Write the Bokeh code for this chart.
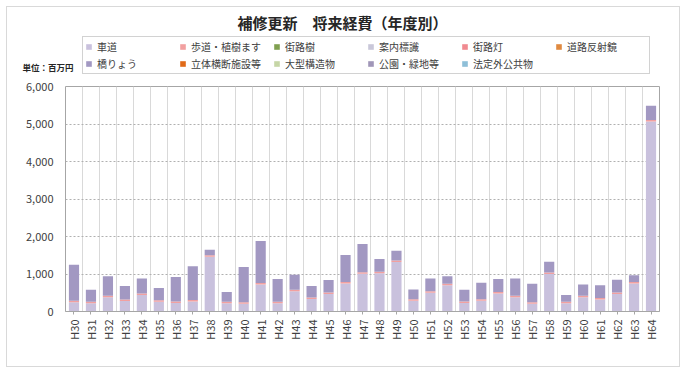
import numpy as np
from bokeh.plotting import figure
from bokeh.layouts import column
from bokeh.models import (ColumnDataSource, Legend, LegendItem, FixedTicker,
                          NumeralTickFormatter, Label, Range1d)
from bokeh.embed import file_html
from bokeh.resources import INLINE

# 年度ラベル
years = ["H30", "H31", "H32", "H33", "H34", "H35", "H36", "H37", "H38", "H39",
         "H40", "H41", "H42", "H43", "H44", "H45", "H46", "H47", "H48", "H49",
         "H50", "H51", "H52", "H53", "H54", "H55", "H56", "H57", "H58", "H59",
         "H60", "H61", "H62", "H63", "H64"]

# 施設区分別 経費（百万円）
shadou = [250, 220, 380, 280, 440, 260, 230, 270, 1460, 220,
          210, 720, 220, 540, 335, 470, 750, 1010, 1020, 1320,
          290, 500, 700, 230, 290, 480, 380, 210, 1000, 220,
          380, 320, 470, 750, 5070]
hodou = [40, 40, 40, 40, 40, 40, 40, 40, 40, 40,
         40, 40, 40, 40, 40, 40, 40, 40, 40, 40,
         40, 40, 40, 40, 40, 40, 40, 40, 40, 40,
         40, 40, 40, 40, 40]
gairoju = [0] * 35
annai = [0] * 35
gairotou = [0] * 35
hanshakyo = [0] * 35
kyouryou = [960, 320, 520, 360, 400, 330, 650, 900, 150, 260,
            940, 1120, 610, 400, 305, 330, 720, 750, 340, 260,
            260, 340, 200, 310, 440, 350, 460, 490, 290, 180,
            300, 340, 340, 180, 380]
rittai = [0] * 35
oogata = [0] * 35
kouen = [0] * 35
houteigai = [0] * 35

names = ["車道", "歩道・植樹ます", "街路樹", "案内標識", "街路灯", "道路反射鏡",
         "橋りょう", "立体横断施設等", "大型構造物", "公園・緑地等", "法定外公共物"]
keys = ["shadou", "hodou", "gairoju", "annai", "gairotou", "hanshakyo",
        "kyouryou", "rittai", "oogata", "kouen", "houteigai"]
colors = ["#c9c1dd", "#f2a0a0", "#80a050", "#c9c7d9", "#f08a90", "#e08a40",
          "#a298c2", "#e06a18", "#c6d6a6", "#a096b8", "#8ebfd8"]

TITLE = "補修更新　将来経費（年度別）"
UNIT = "単位：百万円"
FONT = "Noto Sans CJK JP"

source = ColumnDataSource(dict(
    x=list(range(len(years))),
    shadou=shadou, hodou=hodou, gairoju=gairoju, annai=annai,
    gairotou=gairotou, hanshakyo=hanshakyo, kyouryou=kyouryou,
    rittai=rittai, oogata=oogata, kouen=kouen, houteigai=houteigai,
))

W = 672
HEAD_H = 72

# ---- header: title, unit note and legend -------------------------------
head = figure(width=W, height=HEAD_H, output_backend="svg",
              toolbar_location=None, x_range=Range1d(0, W),
              y_range=Range1d(0, HEAD_H), min_border=0, margin=0)
head.frame_align = False
head.axis.visible = False
head.grid.visible = False
head.outline_line_color = None
head.border_fill_color = "white"

# the series again (hidden) so that the legend can show their swatches
legend_rs = head.vbar_stack(keys, x="x", width=0.6, color=colors,
                            line_color=None, source=source, visible=False)

items = [LegendItem(label=n, renderers=[r]) for n, r in zip(names, legend_rs)]
legend = Legend(items=items, ncols=6, orientation="horizontal",
                location=(75, 5))
legend.label_text_font = FONT
legend.label_text_font_size = "10px"
legend.label_text_color = "#404040"
legend.glyph_width = 7
legend.glyph_height = 7
legend.label_standoff = 5
legend.label_width = 80
legend.label_height = 12
legend.spacing = 2
legend.padding = 2
legend.margin = 0
legend.border_line_color = "#a6a6a6"
legend.border_line_width = 1
legend.background_fill_color = "white"
legend.inactive_fill_alpha = 0
head.add_layout(legend, "center")

head.add_layout(Label(x=W / 2 - 1, y=57, text=TITLE, text_align="center",
                      text_baseline="middle", text_font=FONT,
                      text_font_size="15px", text_font_style="bold",
                      text_color="#262626"))
head.add_layout(Label(x=15, y=13, text=UNIT, text_align="left",
                      text_baseline="middle", text_font=FONT,
                      text_font_size="8.5px", text_font_style="bold",
                      text_color="#262626"))

# ---- chart --------------------------------------------------------------
p = figure(width=W, height=287, output_backend="svg", toolbar_location=None,
           x_range=Range1d(-0.5, len(years) - 0.5), y_range=Range1d(0, 6000),
           min_border_left=58, min_border_right=20, min_border_top=7,
           min_border_bottom=55, margin=0)
p.frame_align = False
p.outline_line_color = "#a6a6a6"
p.background_fill_color = "white"
p.border_fill_color = "white"

p.vbar_stack(keys, x="x", width=0.6, color=colors, line_color=None,
             source=source)

p.xaxis.ticker = FixedTicker(ticks=list(range(len(years))))
p.xaxis.major_label_overrides = {i: y for i, y in enumerate(years)}
p.xaxis.major_label_orientation = np.pi / 2
p.xaxis.major_label_text_font = FONT
p.xaxis.major_label_text_font_size = "11px"
p.xaxis.major_label_text_color = "#404040"
p.xaxis.axis_line_color = "#a6a6a6"
p.xaxis.major_tick_line_color = "#a6a6a6"
p.xaxis.major_tick_in = 0
p.xaxis.major_tick_out = 3
p.xaxis.minor_tick_line_color = None

p.yaxis.ticker = FixedTicker(ticks=[0, 1000, 2000, 3000, 4000, 5000, 6000])
p.yaxis.formatter = NumeralTickFormatter(format="0,0")
p.yaxis.major_label_text_font = FONT
p.yaxis.major_label_text_font_size = "11px"
p.yaxis.major_label_text_color = "#404040"
p.yaxis.axis_line_color = None
p.yaxis.major_tick_line_color = None
p.yaxis.minor_tick_line_color = None
p.yaxis.major_label_standoff = 6

# vertical grid lines between years, dotted horizontal lines
p.xgrid.ticker = FixedTicker(ticks=[i - 0.5 for i in range(len(years) + 1)])
p.xgrid.grid_line_color = "#d9d9d9"
p.ygrid.grid_line_color = "#b0b0b0"
p.ygrid.grid_line_dash = "2 2"

layout = column(head, p, spacing=0, margin=(6, 5, 6, 6))
layout.styles = {"border": "1px solid #d9d9d9", "background": "white"}

open("out.html", "w").write(file_html(layout, INLINE))
